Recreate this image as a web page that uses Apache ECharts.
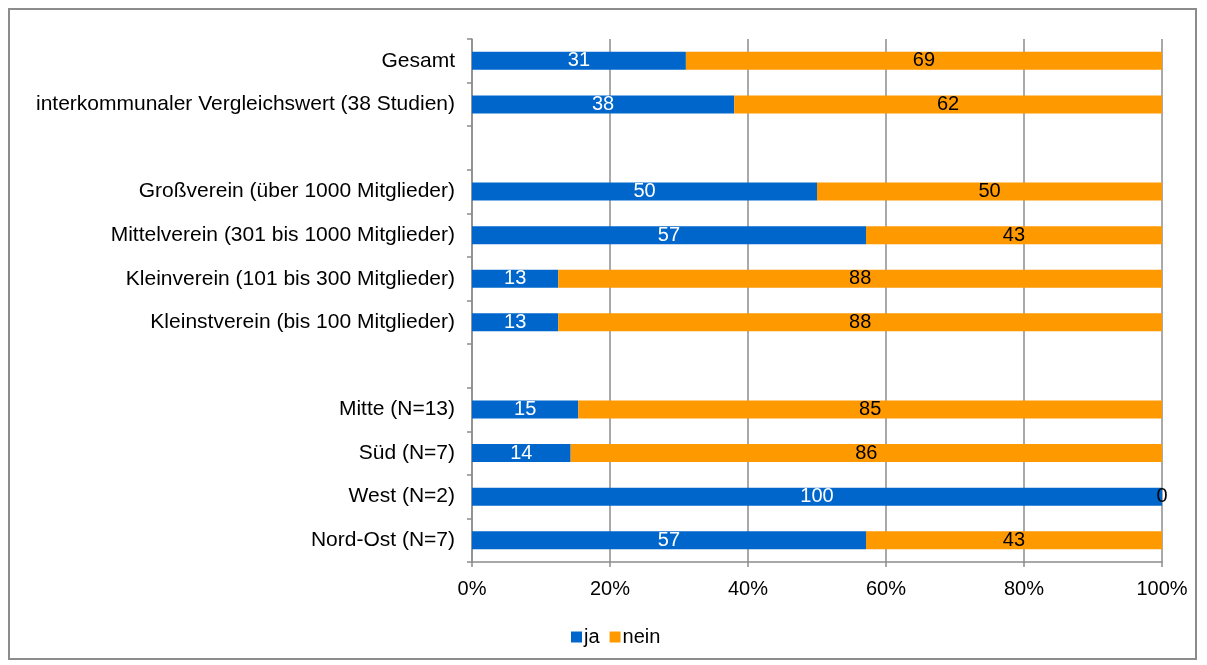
<!DOCTYPE html>
<html><head><meta charset="utf-8">
<script src="https://cdn.jsdelivr.net/npm/echarts@6/dist/echarts.min.js"></script>
<style>html,body{margin:0;padding:0;background:#fff}#frame{position:absolute;left:8px;top:8px;width:1189px;height:652px;border:2px solid #8c8c8c;box-sizing:border-box}#c{position:absolute;left:0;top:0;width:1207px;height:665px}</style>
</head><body><div id="frame"></div><div id="c"></div>
<script>
const categories = ["Gesamt","interkommunaler Vergleichswert (38 Studien)","","Großverein (über 1000 Mitglieder)","Mittelverein (301 bis 1000 Mitglieder)","Kleinverein (101 bis 300 Mitglieder)","Kleinstverein (bis 100 Mitglieder)","","Mitte (N=13)","Süd (N=7)","West (N=2)","Nord-Ost (N=7)"];
const ja =   [31, 38, null, 50, 57.1, 12.5, 12.5, null, 15.4, 14.3, 100, 57.1];
const nein = [69, 62, null, 50, 42.9, 87.5, 87.5, null, 84.6, 85.7, 0, 42.9];
const xTicks = [0, 20, 40, 60, 80, 100];
const font = "'Liberation Sans', Arial, sans-serif";
const chart = echarts.init(document.getElementById('c'), null, {renderer:'canvas'});
const lab = (color) => ({show:true, position:'inside', color:color, fontSize:20, fontFamily:font,
  formatter: p => p.value == null ? '' : String(Math.round(p.value))});
chart.setOption({
  animation:false,
  grid:{left:472, right:45, top:39, bottom:103, containLabel:false},
  legend:{top:622, left:566, itemWidth:11, itemHeight:11, itemGap:10,
    icon:'rect', textStyle:{fontSize:20, fontFamily:font, color:'#000', padding:[0,0,0,-3]}, data:['ja','nein']},
  xAxis:{type:'value', min:0, max:100, interval:20,
    axisLabel:{formatter: v => xTicks.includes(v) ? v + '%' : '', fontSize:20, fontFamily:font, color:'#000', margin:17},
    axisLine:{show:true, lineStyle:{color:'#8c8c8c', width:1.5}},
    axisTick:{show:true, length:5, lineStyle:{color:'#8c8c8c', width:1.5}},
    splitLine:{show:true, lineStyle:{color:'#8c8c8c', width:1.5}}},
  yAxis:{type:'category', data:categories, inverse:true,
    axisLabel:{fontSize:21, fontFamily:font, color:'#000', margin:17},
    axisLine:{show:true, lineStyle:{color:'#8c8c8c', width:1.5}},
    axisTick:{show:true, length:5, lineStyle:{color:'#8c8c8c', width:1.5}}},
  series:[
    {name:'ja', type:'bar', stack:'s', data:ja, barWidth:18, itemStyle:{color:'#0066CC'}, label:lab('#fff')},
    {name:'nein', type:'bar', stack:'s', data:nein, barWidth:18, itemStyle:{color:'#FF9900'}, label:lab('#000')}
  ]
});
</script></body></html>
